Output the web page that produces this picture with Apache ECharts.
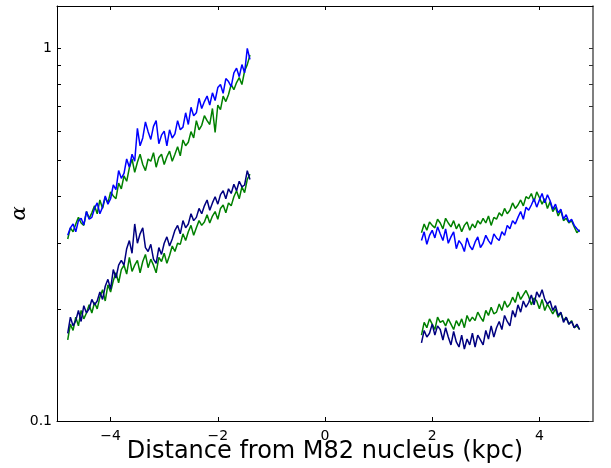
<!DOCTYPE html>
<html><head><meta charset="utf-8">
<script src="https://cdn.jsdelivr.net/npm/echarts@6/dist/echarts.min.js"></script>
<style>html,body{margin:0;padding:0;background:#fff}#c{width:611px;height:468px}</style>
</head><body><div id="c"></div>
<script>
const xLeft = [
-4.80,-4.75,-4.70,-4.65,-4.60,-4.55,-4.50,-4.45,-4.40,-4.35,
-4.30,-4.25,-4.20,-4.15,-4.10,-4.05,-4.00,-3.95,-3.90,-3.85,
-3.80,-3.75,-3.70,-3.65,-3.60,-3.55,-3.50,-3.45,-3.40,-3.35,
-3.30,-3.25,-3.20,-3.15,-3.10,-3.05,-3.00,-2.95,-2.90,-2.85,
-2.80,-2.75,-2.70,-2.65,-2.60,-2.55,-2.50,-2.45,-2.40,-2.35,
-2.30,-2.25,-2.20,-2.15,-2.10,-2.05,-2.00,-1.95,-1.90,-1.85,
-1.80,-1.75,-1.70,-1.65,-1.60,-1.55,-1.50,-1.45,-1.40];
const xRight = [
1.80,1.85,1.90,1.95,2.00,2.05,2.10,2.15,2.20,2.25,
2.30,2.35,2.40,2.45,2.50,2.55,2.60,2.65,2.70,2.75,
2.80,2.85,2.90,2.95,3.00,3.05,3.10,3.15,3.20,3.25,
3.30,3.35,3.40,3.45,3.50,3.55,3.60,3.65,3.70,3.75,
3.80,3.85,3.90,3.95,4.00,4.05,4.10,4.15,4.20,4.25,
4.30,4.35,4.40,4.45,4.50,4.55,4.60,4.65,4.70,4.75];

const blueUpperLeft = [
.315,.330,.338,.322,.345,.350,.336,.365,.348,.352,
.372,.385,.360,.375,.402,.382,.395,.430,.418,.470,
.448,.462,.505,.480,.520,.498,.610,.548,.575,.635,
.598,.570,.618,.640,.555,.585,.600,.548,.605,.575,
.590,.640,.605,.615,.672,.625,.695,.660,.672,.735,
.690,.720,.745,.705,.760,.725,.785,.800,.758,.830,
.815,.790,.860,.885,.840,.905,.860,1.00,.935];
const greenUpperLeft = [
.308,.330,.322,.338,.352,.340,.335,.365,.350,.362,
.378,.360,.392,.372,.398,.385,.412,.402,.395,.435,
.420,.455,.440,.478,.505,.465,.495,.520,.488,.470,
.505,.498,.525,.480,.510,.520,.488,.512,.530,.498,
.520,.545,.515,.568,.548,.560,.598,.575,.640,.605,
.622,.660,.640,.625,.690,.595,.705,.685,.745,.720,
.752,.800,.775,.810,.835,.800,.870,.905,.960];
const navyLowerLeft = [
.172,.190,.180,.186,.198,.185,.204,.195,.200,.212,
.205,.210,.222,.212,.230,.240,.226,.255,.242,.262,
.270,.262,.290,.305,.282,.338,.300,.318,.330,.292,
.285,.298,.272,.265,.292,.280,.300,.312,.295,.308,
.325,.335,.318,.345,.330,.338,.360,.345,.352,.372,
.360,.378,.392,.368,.385,.400,.382,.405,.415,.395,
.420,.408,.432,.415,.440,.425,.430,.470,.445];
const greenLowerLeft = [
.165,.182,.175,.190,.180,.198,.188,.195,.205,.195,
.208,.200,.215,.225,.210,.232,.222,.238,.250,.235,
.255,.262,.248,.275,.252,.262,.270,.250,.268,.280,
.258,.272,.262,.250,.275,.268,.282,.265,.278,.295,
.285,.300,.298,.318,.305,.322,.335,.315,.330,.345,
.335,.342,.358,.340,.355,.365,.348,.372,.380,.362,
.385,.378,.400,.415,.395,.425,.410,.445,.460];

const blueUpperRight = [
.305,.322,.298,.315,.325,.310,.332,.318,.305,.328,
.300,.312,.322,.290,.305,.298,.285,.310,.295,.288,
.302,.312,.292,.300,.315,.305,.298,.318,.310,.305,
.322,.315,.335,.328,.345,.338,.352,.365,.348,.375,
.368,.380,.395,.375,.392,.408,.385,.405,.390,.370,
.382,.362,.370,.348,.358,.342,.348,.335,.328,.322];
const greenUpperRight = [
.320,.338,.325,.342,.335,.330,.348,.340,.328,.350,
.340,.332,.345,.328,.338,.322,.335,.342,.325,.338,
.330,.345,.338,.350,.340,.355,.335,.352,.348,.362,
.355,.372,.360,.368,.385,.372,.380,.392,.378,.400,
.395,.408,.388,.412,.398,.382,.395,.372,.388,.365,
.375,.355,.368,.345,.350,.340,.345,.332,.320,.326];
const navyLowerRight = [
.162,.175,.168,.172,.182,.170,.180,.176,.165,.178,
.168,.160,.174,.163,.158,.170,.156,.166,.160,.172,
.158,.170,.165,.160,.175,.166,.180,.168,.178,.185,
.176,.192,.185,.180,.198,.190,.205,.196,.210,.202,
.208,.218,.205,.222,.215,.225,.212,.206,.210,.198,
.204,.192,.196,.184,.190,.182,.185,.178,.182,.176];
const greenLowerRight = [
.170,.184,.178,.188,.182,.176,.190,.184,.186,.180,
.188,.182,.176,.186,.180,.188,.178,.192,.185,.190,
.186,.196,.190,.185,.198,.192,.202,.194,.196,.206,
.198,.210,.202,.206,.215,.208,.222,.212,.218,.224,
.216,.205,.214,.210,.200,.212,.198,.206,.200,.194,
.200,.190,.195,.186,.190,.182,.186,.178,.180,.176];

const xTicks = [-4,-2,0,2,4];
const yLabelTicks = [0.1,1];
const yAllTicks = [0.1,0.2,0.3,0.4,0.5,0.6,0.7,0.8,0.9,1];

function pairs(xs, ys){ return xs.map((x,i)=>[x, ys[i]]); }
function line(xs, ys, color){
  return {type:'line', data:pairs(xs,ys), showSymbol:false, symbol:'none',
    lineStyle:{color:color, width:1.5}, itemStyle:{color:color}, animation:false, z:2};
}
const lineCol = '#000';
const font = 'DejaVu Sans';
const chart = echarts.init(document.getElementById('c'), null, {renderer:'canvas'});
chart.setOption({
  animation:false,
  backgroundColor:'#fff',
  grid:{left:57, right:18, top:6, bottom:47, containLabel:false, outerBoundsMode:'none'},
  xAxis:[{
    type:'value', min:-5, max:5, position:'bottom',
    axisLine:{show:true, onZero:false, lineStyle:{color:lineCol, width:1}},
    axisTick:{show:true, inside:true, length:4, lineStyle:{color:'#000'}, customValues:xTicks},
    axisLabel:{customValues:xTicks, color:'#000', fontFamily:font, fontSize:14, margin:8,
      formatter:v=>(v<0?'\u2212'+(-v):String(v))},
    splitLine:{show:false},
    name:'Distance from M82 nucleus (kpc)', nameLocation:'middle', nameGap:19, nameMoveOverlap:false,
    nameTextStyle:{color:'#000', fontFamily:font, fontSize:24}
  },{
    type:'value', min:-5, max:5, position:'top',
    axisLine:{show:true, onZero:false, lineStyle:{color:lineCol, width:1}},
    axisTick:{show:true, inside:true, length:4, lineStyle:{color:'#000'}, customValues:xTicks},
    axisLabel:{show:false}, splitLine:{show:false}
  }],
  yAxis:[{
    type:'log', logBase:10, min:0.1, max:1.3, position:'left',
    axisLine:{show:true, onZero:false, lineStyle:{color:lineCol, width:1}},
    axisTick:{show:true, inside:true, length:4, lineStyle:{color:'#000'}, customValues:yAllTicks},
    axisLabel:{customValues:yLabelTicks, color:'#000', fontFamily:font, fontSize:14, margin:5,
      formatter:v=>String(+v.toFixed(1))},
    splitLine:{show:false}, minorTick:{show:false},
    name:'\u03b1', nameLocation:'middle', nameGap:37, nameRotate:90, nameMoveOverlap:false,
    nameTextStyle:{color:'#000', fontFamily:'DejaVu Serif', fontStyle:'italic', fontSize:21,
      verticalAlign:'middle'}
  },{
    type:'log', logBase:10, min:0.1, max:1.3, position:'right',
    axisLine:{show:true, onZero:false, lineStyle:{color:'#555', width:1.5}},
    axisTick:{show:true, inside:true, length:4, lineStyle:{color:'#333'}, customValues:yAllTicks},
    axisLabel:{show:false}, splitLine:{show:false}
  }],
  series:[
    line(xLeft, greenUpperLeft, '#008000'),
    line(xLeft, blueUpperLeft, '#0000ff'),
    line(xLeft, greenLowerLeft, '#008000'),
    line(xLeft, navyLowerLeft, '#000080'),
    line(xRight, greenUpperRight, '#008000'),
    line(xRight, blueUpperRight, '#0000ff'),
    line(xRight, greenLowerRight, '#008000'),
    line(xRight, navyLowerRight, '#000080')
  ]
});
</script></body></html>
